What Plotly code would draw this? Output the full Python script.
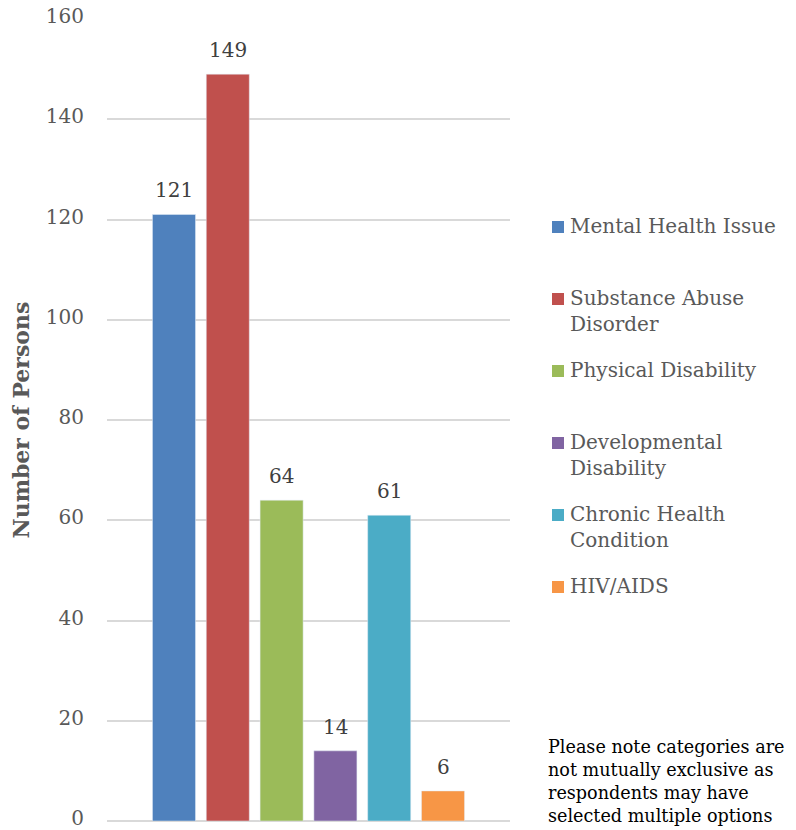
import plotly.graph_objects as go

categories = ["Mental Health Issue", "Substance Abuse Disorder", "Physical Disability",
              "Developmental Disability", "Chronic Health Condition", "HIV/AIDS"]
legend_labels = ["Mental Health Issue", "Substance Abuse<br>Disorder", "Physical Disability",
                 "Developmental<br>Disability", "Chronic Health<br>Condition", "HIV/AIDS"]
values = [121, 149, 64, 14, 61, 6]
colors = ["#4F81BD", "#C0504D", "#9BBB59", "#8064A2", "#4BACC6", "#F79646"]
y_ticks = [0, 20, 40, 60, 80, 100, 120, 140, 160]
note = "Please note categories are<br>not mutually exclusive as<br>respondents may have<br>selected multiple options"

OFF = 8  # default page body margin
W, H = 796 - OFF, 830 - OFF
L, R, T, B = 107 - OFF, 286, 19 - OFF, 9
SERIF = "DejaVu Serif"
GREY = "#595959"

def px_x(x):
    return (x - OFF - L) / (W - L - R)

def px_y(y):
    return 1 - (y - OFF - T) / (H - T - B)

fig = go.Figure()
for i, (c, v, col) in enumerate(zip(categories, values, colors)):
    fig.add_trace(go.Bar(x=[i], y=[v], name=c, marker_color=col, width=0.8,
                         showlegend=False, hoverinfo="name+y"))
    fig.add_annotation(x=i, y=v, xref="x", yref="y", text=str(v), showarrow=False,
                       yanchor="bottom", yshift=10,
                       font=dict(family=SERIF, size=20, color="#404040"))

# legend drawn at right
first_line_y = 227
step = 72
for i, (lab, col) in enumerate(zip(legend_labels, colors)):
    yc = first_line_y + i * step
    fig.add_shape(type="rect", xref="paper", yref="paper",
                  x0=px_x(552), x1=px_x(564), y0=px_y(yc - 6), y1=px_y(yc + 6),
                  fillcolor=col, line_width=0)
    fig.add_annotation(xref="paper", yref="paper", x=px_x(568), y=px_y(yc - 15),
                       xanchor="left", yanchor="top", align="left", showarrow=False,
                       text=lab, font=dict(family=SERIF, size=20, color=GREY))

fig.add_annotation(xref="paper", yref="paper", x=px_x(546), y=px_y(735),
                   xanchor="left", yanchor="top", align="left", showarrow=False,
                   text=note, font=dict(family=SERIF, size=17.6, color="#000000"))

fig.update_layout(
    width=W, height=H,
    margin=dict(l=L, r=R, t=T, b=B, pad=0, autoexpand=False),
    plot_bgcolor="white", paper_bgcolor="white",
    barmode="overlay",
    xaxis=dict(range=[-1.245, 6.245], showticklabels=False, showgrid=False,
               zeroline=False, showline=False, ticks="", automargin=False),
    yaxis=dict(range=[0, 160], tickvals=y_ticks, showgrid=True, gridcolor="#D9D9D9",
               gridwidth=2, zeroline=True, zerolinecolor="#D9D9D9", zerolinewidth=2,
               showline=False, ticks="", ticklabelstandoff=22, ticklabeloverflow="allow",
               ticklabelshift=-3, automargin=False,
               tickfont=dict(family=SERIF, size=20, color=GREY),
               title=dict(text="<b>Number of Persons</b>", standoff=12,
                          font=dict(family=SERIF, size=22, color=GREY))),
)

fig.write_html("out.html")
